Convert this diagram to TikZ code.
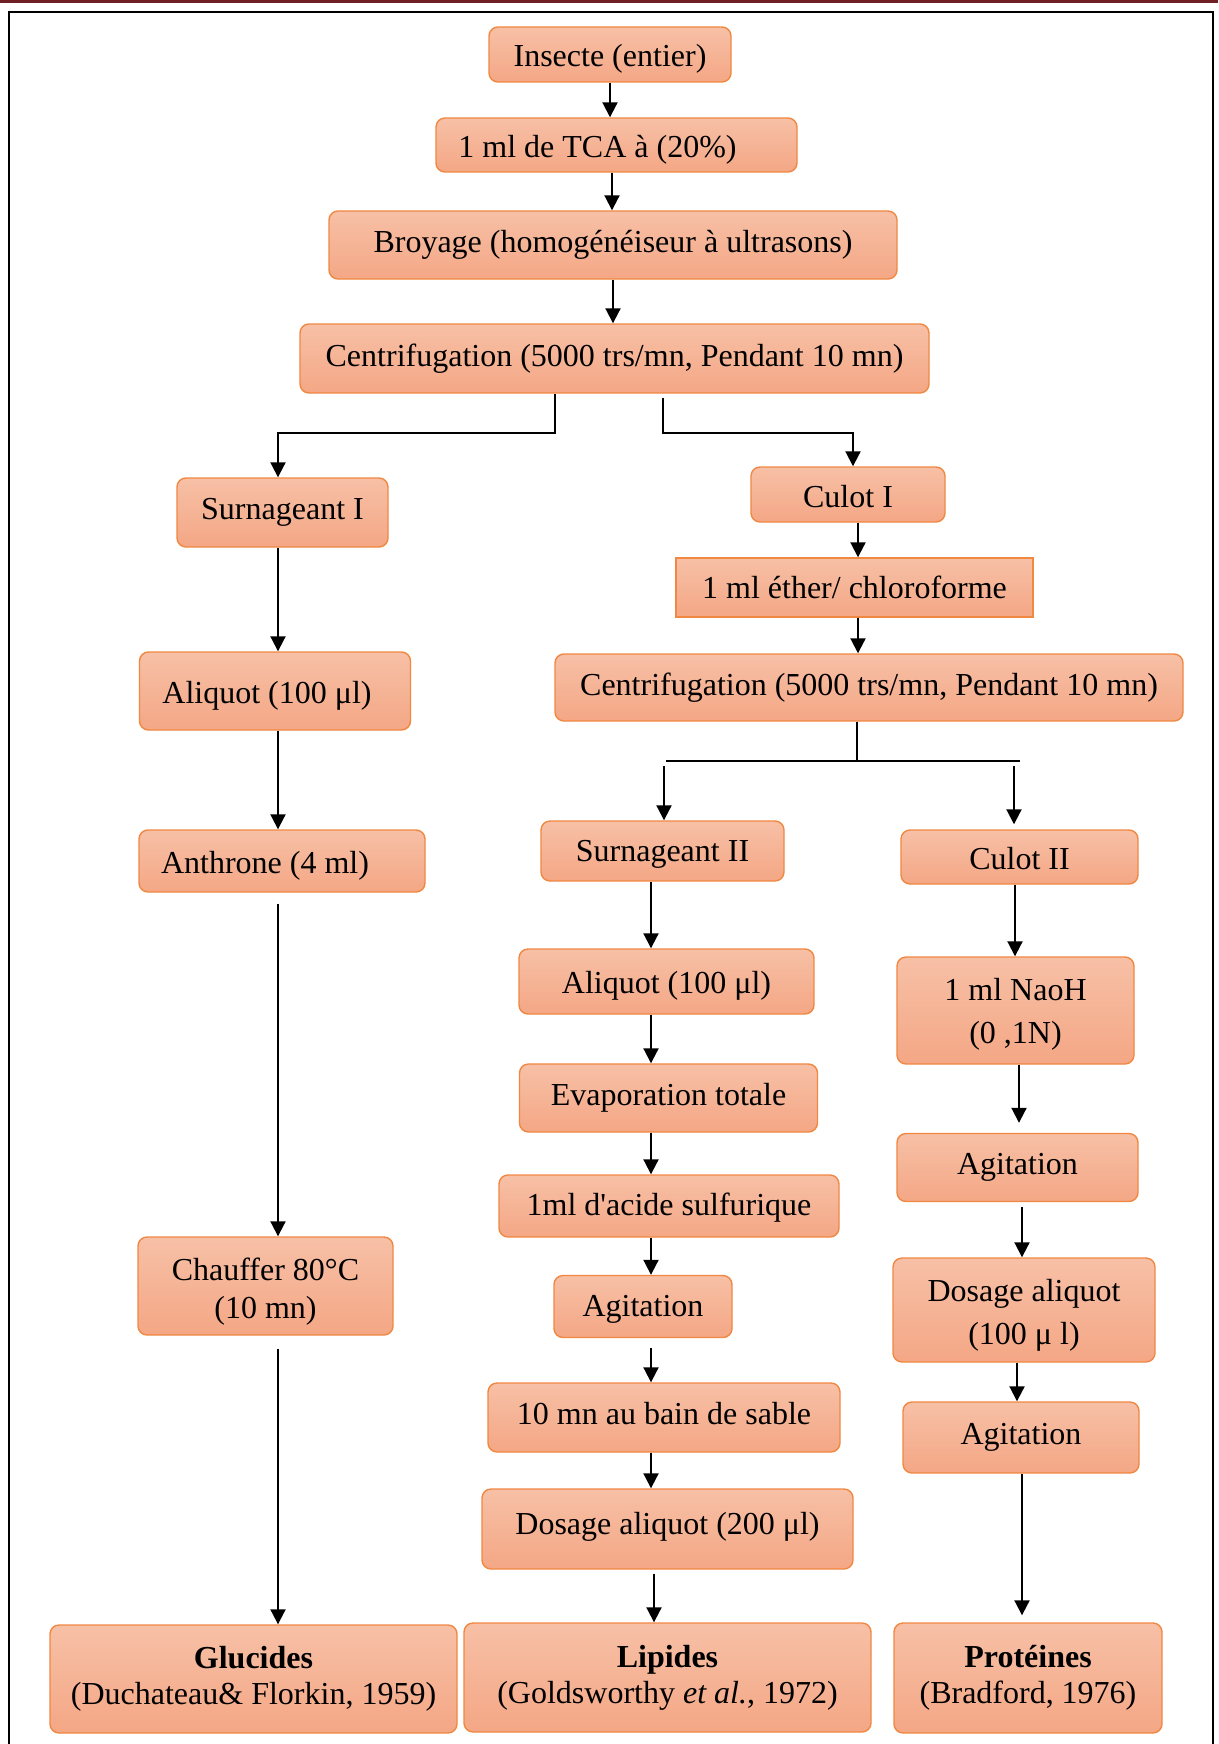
\documentclass[tikz,border=0pt]{standalone}
\usepackage{fontspec}
\setmainfont{Liberation Serif}
\usetikzlibrary{arrows.meta}
\definecolor{boxtop}{RGB}{247,192,166}
\definecolor{boxbot}{RGB}{244,167,133}
\definecolor{boxline}{RGB}{240,136,66}
\definecolor{topbar}{RGB}{112,32,36}
\newcommand{\txtshift}[2]{\raisebox{#1}[0pt][0pt]{#2}\vphantom{#2}}
\begin{document}
\begin{tikzpicture}[x=1pt,y=-1pt,
  flowbox/.style={draw=boxline, line width=1.4pt, rounded corners=9pt,
    top color=boxtop, bottom color=boxbot, inner sep=0pt, align=center,
    font=\fontsize{32}{38}\selectfont},
  sqbox/.style={flowbox, sharp corners},
  arr/.style={-{Triangle[length=15pt,width=15pt]}, line width=2pt, black},
  ln/.style={line width=2pt, black}]
\useasboundingbox (0,0) rectangle (1218,1744);
\fill[white] (0,0) rectangle (1218,1744);
\fill[topbar] (0,0) rectangle (1218,3);
\draw[line width=2pt] (9,1760) -- (9,12) -- (1213,12) -- (1213,1760);

% top chain
\node[flowbox, minimum width=242pt, minimum height=55pt] (insecte) at (610,54.5) {\txtshift{-4.5pt}{Insecte (entier)}};
\node[flowbox, minimum width=361pt, minimum height=54pt] (tca) at (616.5,145) {\txtshift{-4.5pt}{1 ml de TCA à (20\%)}\hspace*{38pt}};
\node[flowbox, minimum width=568pt, minimum height=68pt] (broyage) at (613,245) {Broyage (homogénéiseur à ultrasons)};
\node[flowbox, minimum width=629pt, minimum height=69pt] (centrifA) at (614.5,358.5) {Centrifugation (5000 trs/mn, Pendant 10 mn)};

% left column
\node[flowbox, minimum width=211pt, minimum height=69pt] (surnA) at (282.5,512.5) {Surnageant I};
\node[flowbox, minimum width=271pt, minimum height=78pt] (aliqA) at (275,691) {\txtshift{-4.5pt}{Aliquot (100 μl)}\hspace*{16pt}};
\node[flowbox, minimum width=286pt, minimum height=62pt] (anthrone) at (282,861) {\txtshift{-4.5pt}{Anthrone (4 ml)}\hspace*{34pt}};
\node[flowbox, minimum width=255pt, minimum height=98pt] (chauffer) at (265.5,1286) {\txtshift{-5.5pt}{Chauffer 80°C}\\\txtshift{-5.5pt}{(10 mn)}};
\node[flowbox, minimum width=407pt, minimum height=108pt, font=\fontsize{32}{36}\selectfont] (glucides) at (253.5,1679) {\textbf{Glucides}\\(Duchateau\& Florkin, 1959)};

% right branch
\node[flowbox, minimum width=194pt, minimum height=55pt] (culotA) at (848,494.5) {\txtshift{-2pt}{Culot I}};
\node[sqbox, minimum width=357pt, minimum height=59pt] (ether) at (854.5,587.5) {1 ml éther/ chloroforme};
\node[flowbox, minimum width=628pt, minimum height=67pt] (centrifB) at (869,687.5) {Centrifugation (5000 trs/mn, Pendant 10 mn)};

% middle column
\node[flowbox, minimum width=243pt, minimum height=60pt] (surnB) at (662.5,851) {\txtshift{-3pt}{Surnageant II}};
\node[flowbox, minimum width=295pt, minimum height=65pt] (aliqB) at (666.5,981.5) {\txtshift{-4.5pt}{Aliquot (100 μl)}};
\node[flowbox, minimum width=298pt, minimum height=68pt] (evap) at (668.5,1098) {Evaporation totale};
\node[flowbox, minimum width=340pt, minimum height=62pt] (acide) at (669,1206) {\txtshift{-2pt}{1ml d\textquotesingle acide sulfurique}};
\node[flowbox, minimum width=178pt, minimum height=62pt] (agitM) at (643,1306.5) {\txtshift{-3pt}{Agitation}};
\node[flowbox, minimum width=352pt, minimum height=69pt] (sable) at (664,1417.5) {\txtshift{4pt}{10 mn au bain de sable}};
\node[flowbox, minimum width=371pt, minimum height=80pt] (dosageB) at (667.5,1529) {\txtshift{2pt}{Dosage aliquot (200 μl)}};
\node[flowbox, minimum width=407pt, minimum height=109pt, font=\fontsize{32}{36}\selectfont] (lipides) at (667.5,1677.5) {\textbf{Lipides}\\(Goldsworthy \textit{et al.}, 1972)};

% right column
\node[flowbox, minimum width=237pt, minimum height=54pt] (culotB) at (1019.5,857) {\txtshift{-2pt}{Culot II}};
\node[flowbox, minimum width=237pt, minimum height=107pt, font=\fontsize{32}{43}\selectfont] (naoh) at (1015.5,1010.5) {\txtshift{-4pt}{1 ml NaoH}\\\txtshift{-4pt}{(0 ,1N)}};
\node[flowbox, minimum width=241pt, minimum height=68pt] (agitR) at (1017.5,1167.5) {Agitation};
\node[flowbox, minimum width=262pt, minimum height=104pt, font=\fontsize{32}{43}\selectfont] (dosageC) at (1024,1310) {\txtshift{-5pt}{Dosage aliquot}\\\txtshift{-5pt}{(100 μ l)}};
\node[flowbox, minimum width=236pt, minimum height=71pt] (agitS) at (1021,1437.5) {Agitation};
\node[flowbox, minimum width=268pt, minimum height=110pt, font=\fontsize{32}{36}\selectfont] (proteines) at (1028,1678) {\textbf{Protéines}\\(Bradford, 1976)};

% helper coordinates
\coordinate (colT) at (612,0);
\coordinate (colL) at (278,0);
\coordinate (colC) at (858,0);
\coordinate (colM) at (651,0);
\coordinate (colM2) at (654,0);
\coordinate (colR) at (1015,0);
\coordinate (colR2) at (1019,0);
\coordinate (colR3) at (1022,0);
\coordinate (colR4) at (1017,0);
\coordinate (splitL) at (555,433);
\coordinate (splitR) at (663,433);
\coordinate (splitB) at (857,761);
\coordinate (hbL) at (666,761);
\coordinate (hbR) at (1020,761);
\coordinate (dropL) at (664,766);
\coordinate (dropR) at (1014,766);

% top connectors
\draw[arr] (insecte.south) -- (insecte.south |- tca.north);
\draw[arr] (tca.south -| colT) -- (broyage.north -| colT);
\draw[arr] (broyage.south) -- (broyage.south |- centrifA.north);
\draw[arr] (centrifA.south -| splitL) -- (splitL) -| (surnA.north -| colL);
\draw[arr, shorten <=4pt] (centrifA.south -| splitR) -- (splitR) -| ([xshift=5pt]culotA.north);

% left
\draw[arr] (surnA.south -| colL) -- (aliqA.north -| colL);
\draw[arr] (aliqA.south -| colL) -- (anthrone.north -| colL);
\draw[arr, shorten <=11pt] (anthrone.south -| colL) -- (chauffer.north -| colL);
\draw[arr, shorten <=13pt] (chauffer.south -| colL) -- (glucides.north -| colL);

% right branch
\draw[arr] (culotA.south -| colC) -- (ether.north -| colC);
\draw[arr] (ether.south -| colC) -- (centrifB.north -| colC);
\draw[ln] (centrifB.south -| splitB) -- (splitB);
\draw[ln] (hbL) -- (hbR);
\draw[arr] (dropL) -- (surnB.north -| dropL);
\draw[arr, shorten >=5pt] (dropR) -- (culotB.north -| dropR);

% middle
\draw[arr] (surnB.south -| colM) -- (aliqB.north -| colM);
\draw[arr] (aliqB.south -| colM) -- (evap.north -| colM);
\draw[arr] (evap.south -| colM) -- (acide.north -| colM);
\draw[arr] (acide.south -| colM) -- (agitM.north -| colM);
\draw[arr, shorten <=10pt] (agitM.south -| colM) -- (sable.north -| colM);
\draw[arr] (sable.south -| colM) -- (dosageB.north -| colM);
\draw[arr, shorten <=4pt] (dosageB.south -| colM2) -- (lipides.north -| colM2);

% right
\draw[arr] (culotB.south -| colR) -- (naoh.north -| colR);
\draw[arr, shorten >=10pt] (naoh.south -| colR2) -- (agitR.north -| colR2);
\draw[arr, shorten <=5pt] (agitR.south -| colR3) -- (dosageC.north -| colR3);
\draw[arr] (dosageC.south -| colR4) -- (agitS.north -| colR4);
\draw[arr, shorten >=7pt] (agitS.south -| colR3) -- (proteines.north -| colR3);
\end{tikzpicture}
\end{document}
